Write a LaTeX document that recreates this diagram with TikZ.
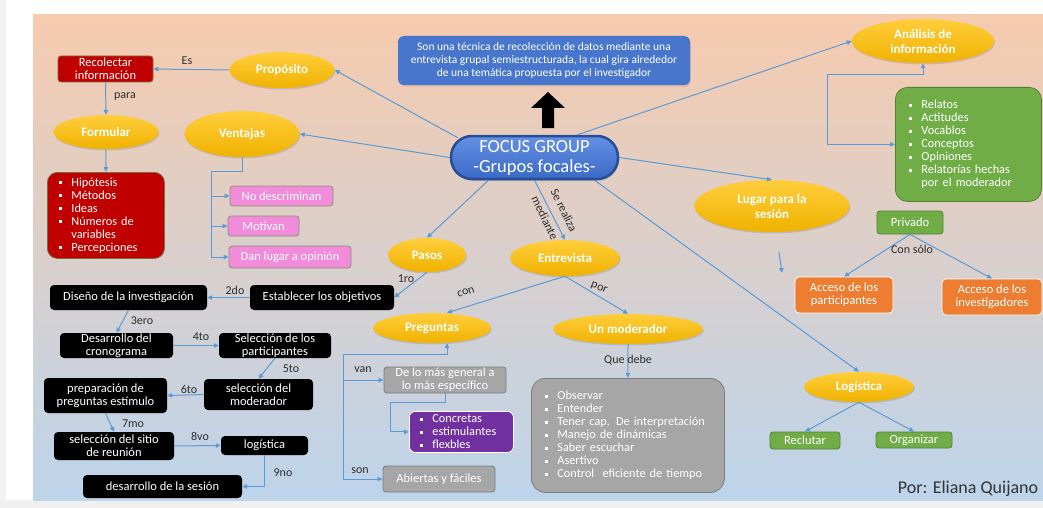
\documentclass[tikz,border=0pt]{standalone}
\usepackage{fontspec}
\setmainfont{Carlito}
\usetikzlibrary{shapes.geometric,shadows,arrows.meta}
\definecolor{conn}{RGB}{91,155,213}
\definecolor{ellTop}{RGB}{255,206,60}
\definecolor{ellBot}{RGB}{240,178,0}
\definecolor{darkred}{RGB}{192,0,0}
\definecolor{olivebd}{RGB}{120,110,60}
\definecolor{pinkbx}{RGB}{242,140,218}
\definecolor{pinkbd}{RGB}{130,150,110}
\definecolor{grn}{RGB}{112,173,71}
\definecolor{grnbd}{RGB}{80,130,50}
\definecolor{orng}{RGB}{237,125,49}
\definecolor{gry}{RGB}{166,166,166}
\definecolor{grybd}{RGB}{125,125,125}
\definecolor{purpl}{RGB}{112,48,160}
\definecolor{bluebx}{RGB}{72,118,205}
\definecolor{bluebd}{RGB}{38,78,150}
\definecolor{peach}{RGB}{246,203,174}
\definecolor{skyb}{RGB}{189,212,235}
\definecolor{lbltext}{RGB}{45,45,45}
\newcommand\bu{\makebox[12pt][l]{\rule[2pt]{2.8pt}{2.8pt}}}
\newcommand\bi{\hspace*{12pt}}
\begin{document}
\begin{tikzpicture}[x=1pt,y=-1pt,
  arr/.style={draw=conn, line width=1pt, -{Triangle[length=5pt,width=4.5pt]}},
  plain/.style={draw=conn, line width=1pt},
  ell/.style={ellipse, inner sep=0pt, top color=ellTop, bottom color=ellBot, draw=none, text=white,
    font=\bfseries\fontsize{13}{15}\selectfont, align=center,
    drop shadow={shadow xshift=0.8pt, shadow yshift=-1.5pt, opacity=0.3}},
  blk/.style={rectangle, rounded corners=4pt, fill=black, text=white, inner sep=0pt, align=center,
    font=\fontsize{12.5}{13.3}\selectfont},
  sbox/.style={rectangle, rounded corners=3pt, text=white, inner sep=0pt, align=center,
    font=\fontsize{12.5}{13.3}\selectfont, line width=0.8pt},
  lst/.style={rectangle, text=white, align=left, inner xsep=12pt, inner ysep=0pt, anchor=north west,
    font=\fontsize{12.3}{13}\selectfont, line width=0.8pt},
  lbl/.style={font=\fontsize{12}{13}\selectfont, text=lbltext, inner sep=1pt, align=center}
]
\useasboundingbox (0,0) rectangle (1043,508);
\fill[white] (0,0) rectangle (1043,508);
\fill[black!5] (0,0) rectangle (6,508);
\fill[black!6] (0,500) rectangle (1043,508);
\shade[top color=peach,bottom color=skyb] (33,15) rectangle (1043,500);

% description and arrow
\node[rectangle, rounded corners=6pt, fill=bluebx, text=white, minimum width=292, minimum height=49,
  inner sep=0pt, align=center, font=\fontsize{11.5}{12.6}\selectfont,
  drop shadow={shadow xshift=0.8pt, shadow yshift=-1.5pt, opacity=0.3}] (desc) at (544,60.5)
  {Son una técnica de recolección de datos mediante una\\entrevista grupal semiestructurada, la cual gira alrededor\\de una temática propuesta por el investigador};
\fill[black] (542,128) -- (542,108) -- (531,108) -- (548,92) -- (565,108) -- (554,108) -- (554,128) -- cycle;

% central node
\node[rectangle, rounded corners=21pt, top color={rgb,255:red,100;green,145;blue,228}, bottom color={rgb,255:red,58;green,105;blue,198},
  draw=bluebd, line width=2.5pt, minimum width=167, minimum height=43, inner sep=0pt, text=white,
  align=center, font=\fontsize{18.5}{20}\selectfont,
  drop shadow={shadow xshift=1pt, shadow yshift=-2pt, opacity=0.35}] (focus) at (534.5,157.5)
  {FOCUS GROUP\\-Grupos focales-};

% left top
\node[ell, minimum width=105, minimum height=36] (prop) at (282,70) {Propósito};
\node[sbox, fill=darkred, draw=olivebd, minimum width=95, minimum height=26] (rec) at (105.5,69) {Recolectar\\información};
\node[ell, minimum width=105, minimum height=34] (form) at (106,132) {Formular};
\node[lst, fill=darkred, draw=olivebd, rounded corners=10pt, text width=93pt, minimum height=86] (redl) at (47,172)
  {\bu Hipótesis\\\bu Métodos\\\bu Ideas\\\bu Números de\\\bi variables\\\bu Percepciones};
\node[ell, minimum width=115, minimum height=46] (vent) at (242,134) {Ventajas};
\node[sbox, fill=pinkbx, draw=pinkbd, minimum width=103, minimum height=20] (nodisc) at (281.5,196) {No descriminan};
\node[sbox, fill=pinkbx, draw=pinkbd, minimum width=71, minimum height=20] (motiv) at (263.5,226) {Motivan};
\node[sbox, fill=pinkbx, draw=pinkbd, minimum width=122, minimum height=22] (danlug) at (290,257) {Dan lugar a opinión};

% right
\node[ell, minimum width=142, minimum height=44] (anal) at (923,41) {Análisis de\\información};
\node[lst, fill=grn, draw=grnbd, rounded corners=12pt, inner xsep=14pt, text width=118pt, minimum height=114] (greenl) at (895,87)
  {\bu Relatos\\\bu Actitudes\\\bu Vocablos\\\bu Conceptos\\\bu Opiniones\\\bu Relatorías hechas\\\bi por el moderador};
\node[ell, minimum width=155, minimum height=52] (lugar) at (772,206) {Lugar para la\\sesión};
\node[sbox, fill=grn, draw=grnbd, minimum width=66, minimum height=23] (priv) at (910,222.5) {Privado};
\node[sbox, fill=orng, draw=white, rounded corners=4pt, minimum width=98, minimum height=36] (accp) at (844,295) {Acceso de los\\participantes};
\node[sbox, fill=orng, draw=white, rounded corners=4pt, minimum width=100, minimum height=36] (acci) at (992,297) {Acceso de los\\investigadores};
\node[ell, minimum width=110, minimum height=30] (log) at (859,387) {Logística};
\node[sbox, fill=grn, draw=grnbd, minimum width=70, minimum height=17] (recl) at (805,440.5) {Reclutar};
\node[sbox, fill=grn, draw=grnbd, minimum width=76, minimum height=16] (org) at (914,440) {Organizar};

% middle
\node[ell, minimum width=78, minimum height=34] (pasos) at (427,255) {Pasos};
\node[ell, minimum width=110, minimum height=36] (entrev) at (565,258) {Entrevista};
\node[ell, minimum width=118, minimum height=30] (preg) at (432,328) {Preguntas};
\node[ell, minimum width=150, minimum height=30] (mod) at (628,329) {Un moderador};
\node[sbox, fill=gry, draw=grybd, minimum width=122, minimum height=26] (dlm) at (445,380) {De lo más general a\\lo más específico};
\node[lst, fill=purpl, draw=white, rounded corners=6pt, inner xsep=11pt, text width=82pt, minimum height=41] (purp) at (409,411)
  {\bu Concretas\\\bu estimulantes\\\bu flexbles};
\node[sbox, fill=gry, draw=grybd, minimum width=112, minimum height=26] (abi) at (439,479) {Abiertas y fáciles};
\node[lst, fill=gry, draw=grybd, rounded corners=14pt, inner xsep=14pt, text width=165pt, minimum height=114] (gboxl) at (531,378)
  {\bu Observar\\\bu Entender\\\bu Tener cap. De interpretación\\\bu Manejo de dinámicas\\\bu Saber escuchar\\\bu Asertivo\\\bu Control\ \ eficiente de tiempo};

% steps
\node[blk, minimum width=144, minimum height=25] (est) at (322,297.5) {Establecer los objetivos};
\node[blk, minimum width=157, minimum height=25] (dis) at (128.5,297.5) {Diseño de la investigación};
\node[blk, minimum width=113, minimum height=25] (des) at (116.5,345.5) {Desarrollo del\\cronograma};
\node[blk, minimum width=112, minimum height=25] (selp) at (275,345.5) {Selección de los\\participantes};
\node[blk, minimum width=109, minimum height=31] (selm) at (258.5,394.5) {selección del\\moderador};
\node[blk, minimum width=123, minimum height=35] (prep) at (105.5,395.5) {preparación de\\preguntas estímulo};
\node[blk, minimum width=120, minimum height=28] (sitio) at (114,446) {selección del sitio\\de reunión};
\node[blk, minimum width=87, minimum height=19] (logi) at (264.5,445.5) {logística};
\node[blk, minimum width=159, minimum height=23] (dses) at (162.5,486.5) {desarrollo de la sesión};

% connectors from focus
\draw[arr] ([shift={(8,3)}]focus.north west) -- (prop.east);
\draw[arr] (focus.west) -- (vent.east);
\draw[arr] ([xshift=-46]focus.south) -- (pasos.north);
\draw[arr] (focus.south) -- (entrev.north);
\draw[arr] ([xshift=60]focus.south) -- (log.north);
\draw[arr] (focus.east) -- (lugar.north);
\draw[arr] ([xshift=43]focus.north) -- (anal.west);

% left top connectors
\draw[arr] (prop.west) -- (rec.east);
\node[lbl] (les) at (187,61) {Es};
\draw[arr] (rec.south) -- (form.north);
\node[lbl] (lpara) at (125,97) {para};
\draw[arr] (form.south) -- (redl.north);
\coordinate (vj) at (211,171);
\coordinate (vb) at (211,257);
\draw[plain] (vent.south) |- (vj) -- (vb);
\draw[arr] (vj |- nodisc.west) -- (nodisc.west);
\draw[arr] (vj |- motiv.west) -- (motiv.west);
\draw[arr] (vb) -- (danlug.west);

% right connectors
\coordinate (ab) at (827,75);
\draw[arr] (ab) -| (anal.south);
\draw[arr] (ab) |- (greenl.west);
\draw[arr] (priv.south) -- (accp.north);
\draw[arr] (priv.south) -- (acci.north);
\node[lbl] (lcon) at (912,249) {Con sólo};
\coordinate (s1) at (779,252);
\coordinate (s2) at (782,273);
\draw[arr] (s1) -- (s2);
\draw[arr] (log.south) -- (recl.north);
\draw[arr] (log.south) -- (org.north);

% steps connectors
\draw[arr] (pasos.south) -- (est.east);
\node[lbl] (l1) at (406,279) {1ro};
\draw[arr] (est.west) -- (dis.east);
\node[lbl] (l2) at (235,290) {2do};
\draw[arr] (dis.south) -- (des.north);
\node[lbl] (l3) at (142,321) {3ero};
\draw[arr] (des.east) -- (selp.west);
\node[lbl] (l4) at (201,337) {4to};
\draw[arr] (selp.south) -- (selm.north);
\node[lbl] (l5) at (291,369) {5to};
\draw[arr] (selm.west) -- (prep.east);
\node[lbl] (l6) at (189,389) {6to};
\draw[arr] (prep.south) -- (sitio.north);
\node[lbl] (l7) at (133,424) {7mo};
\draw[arr] (sitio.east) -- (logi.west);
\node[lbl] (l8) at (200,436) {8vo};
\draw[arr] (logi.south) |- (dses.east);
\node[lbl] (l9) at (283,473) {9no};

% entrevista connectors
\node[lbl, rotate=-64] (lsr) at (564,210) {Se realiza};
\node[lbl, rotate=-64] (lmed) at (545,218) {mediante};
\draw[arr] (entrev.south) -- ([xshift=15]preg.north);
\node[lbl, rotate=17] (lconn) at (466,292) {con};
\draw[arr] (entrev.south) -- (mod.north);
\node[lbl, rotate=-22] (lpor) at (599,288) {por};
\draw[arr] (mod.south) -- (gboxl.north);
\node[lbl] (lque) at (628,360) {Que debe};
\coordinate (pt) at (343,354);
\coordinate (pb) at (343,479);
\draw[arr] (pb) -- (pt) -| ([xshift=15]preg.south);
\draw[arr] (pt |- dlm.west) -- (dlm.west);
\draw[arr] (pb) -- (abi.west);
\node[lbl] (lvan) at (363,370) {van};
\node[lbl] (lson) at (360,471) {son};
\coordinate (d1) at (390,402);
\draw[arr] (dlm.south) |- (d1) |- (purp.west);

\node[font=\fontsize{18}{20}\selectfont, text=black!80, inner sep=0pt] (author) at (968,489) {Por: Eliana Quijano};
\end{tikzpicture}
\end{document}
